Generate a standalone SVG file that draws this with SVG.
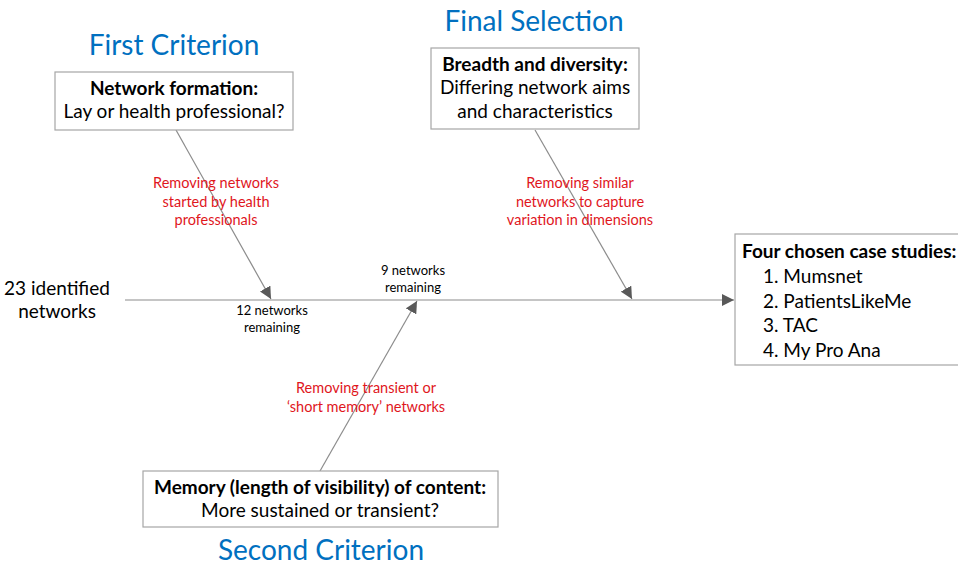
<svg xmlns="http://www.w3.org/2000/svg" width="958" height="566" viewBox="0 0 958 566">
<defs>
<marker id="arr" viewBox="0 0 10 10" refX="10" refY="5" markerWidth="12" markerHeight="12" markerUnits="userSpaceOnUse" orient="auto">
<path d="M0,0 L10,5 L0,10 Z" fill="#595959"/>
</marker>
</defs>
<style>
text{font-family:Lato,"Open Sans","Liberation Sans",sans-serif;}
.title{font-size:28px;fill:#0070C0;text-anchor:middle;}
.box{fill:#fff;stroke:#A6A6A6;stroke-width:1.2;}
.bt{font-size:19px;fill:#000;text-anchor:middle;}
.b{font-weight:bold;}
.red{font-size:14.5px;fill:#E0161D;text-anchor:middle;}
.sm{font-size:13px;fill:#000;text-anchor:middle;}
.ln{stroke:#8C8C8C;stroke-width:1.2;fill:none;}
</style>
<rect width="958" height="566" fill="#fff"/>

<g id="titles">
<text class="title" x="174" y="55">First Criterion</text>
<text class="title" x="534" y="31">Final Selection</text>
<text class="title" x="321" y="560">Second Criterion</text>
</g>

<g id="connectors">
<line class="ln" x1="125" y1="300" x2="734" y2="300" marker-end="url(#arr)"/>
<line class="ln" x1="176" y1="130" x2="271" y2="299" marker-end="url(#arr)"/>
<line class="ln" x1="535" y1="130" x2="632" y2="299" marker-end="url(#arr)"/>
<line class="ln" x1="320" y1="471" x2="417" y2="301" marker-end="url(#arr)"/>
</g>

<g id="start">
<text class="bt" x="57" y="295">23 identified</text>
<text class="bt" x="57" y="318">networks</text>
</g>

<g id="node-first">
<rect class="box" x="55" y="72" width="238" height="58"/>
<text class="bt b" x="174" y="95">Network formation:</text>
<text class="bt" x="174" y="118">Lay or health professional?</text>
</g>

<g id="node-final">
<rect class="box" x="431" y="48" width="208" height="81"/>
<text class="bt b" x="535" y="71">Breadth and diversity:</text>
<text class="bt" x="535" y="94">Differing network aims</text>
<text class="bt" x="535" y="118">and characteristics</text>
</g>

<g id="node-second">
<rect class="box" x="143" y="471" width="355" height="56"/>
<text class="bt b" x="320" y="494">Memory (length of visibility) of content:</text>
<text class="bt" x="320" y="517">More sustained or transient?</text>
</g>

<g id="node-result">
<rect class="box" x="735" y="234" width="230" height="131"/>
<text class="bt b" x="742" y="258" style="text-anchor:start">Four chosen case studies:</text>
<text class="bt" x="763" y="283" style="text-anchor:start">1. Mumsnet</text>
<text class="bt" x="763" y="308" style="text-anchor:start">2. PatientsLikeMe</text>
<text class="bt" x="763" y="332" style="text-anchor:start">3. TAC</text>
<text class="bt" x="763" y="357" style="text-anchor:start">4. My Pro Ana</text>
</g>

<g id="labels">
<text class="red" x="216" y="188">Removing networks</text>
<text class="red" x="216" y="207">started by health</text>
<text class="red" x="216" y="225">professionals</text>
<text class="red" x="580" y="188">Removing similar</text>
<text class="red" x="580" y="207">networks to capture</text>
<text class="red" x="580" y="225">variation in dimensions</text>
<text class="red" x="366" y="393">Removing transient or</text>
<text class="red" x="366" y="412">‘short memory’ networks</text>
<text class="sm" x="413" y="275">9 networks</text>
<text class="sm" x="413" y="292">remaining</text>
<text class="sm" x="272" y="315">12 networks</text>
<text class="sm" x="272" y="332">remaining</text>
</g>
</svg>
